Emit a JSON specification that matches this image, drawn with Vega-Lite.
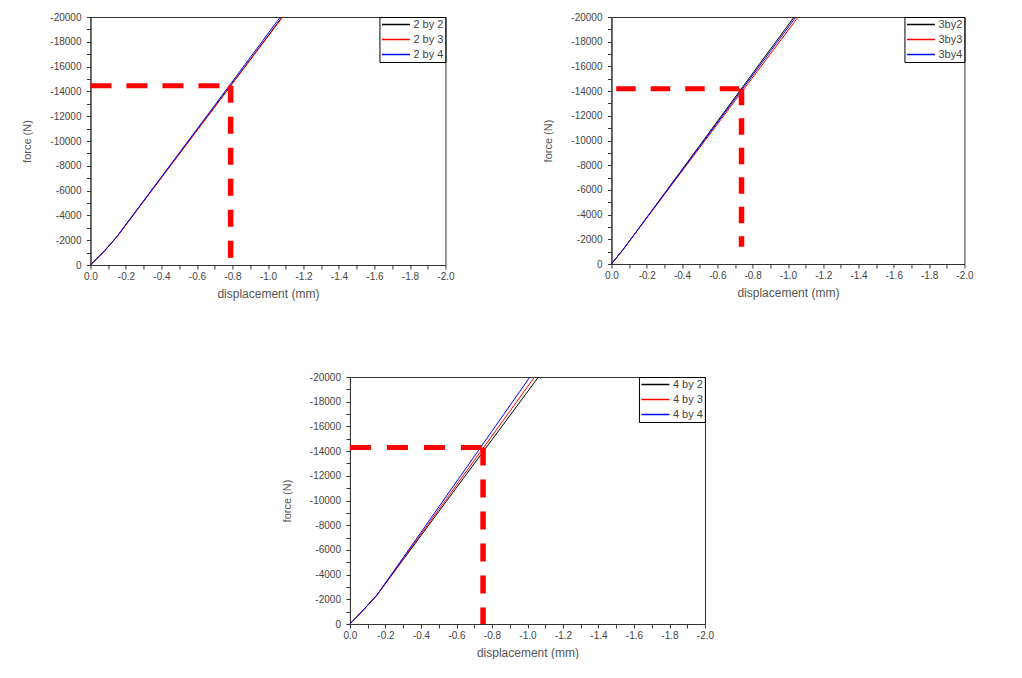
{
  "$schema": "https://vega.github.io/schema/vega-lite/v6.json",
  "padding": {"left": 21, "top": 11, "right": 0, "bottom": 0},
  "background": "white",
  "datasets": {
    "p1": [
      {"s":"2 by 2","x":0,"y":0},{"s":"2 by 2","x":-0.08,"y":-1150},{"s":"2 by 2","x":-0.15,"y":-2300},{"s":"2 by 2","x":-0.3,"y":-5150},{"s":"2 by 2","x":-0.5,"y":-8960},{"s":"2 by 2","x":-0.7,"y":-12770},{"s":"2 by 2","x":-0.9,"y":-16570},{"s":"2 by 2","x":-1.08,"y":-20000},
      {"s":"2 by 3","x":0,"y":0},{"s":"2 by 3","x":-0.08,"y":-1140},{"s":"2 by 3","x":-0.15,"y":-2290},{"s":"2 by 3","x":-0.3,"y":-5150},{"s":"2 by 3","x":-0.5,"y":-8940},{"s":"2 by 3","x":-0.7,"y":-12730},{"s":"2 by 3","x":-0.9,"y":-16530},{"s":"2 by 3","x":-1.083,"y":-20000},
      {"s":"2 by 4","x":0,"y":0},{"s":"2 by 4","x":-0.08,"y":-1160},{"s":"2 by 4","x":-0.15,"y":-2310},{"s":"2 by 4","x":-0.3,"y":-5190},{"s":"2 by 4","x":-0.5,"y":-9030},{"s":"2 by 4","x":-0.7,"y":-12880},{"s":"2 by 4","x":-0.9,"y":-16730},{"s":"2 by 4","x":-1.07,"y":-20000}
    ],
    "p2": [
      {"s":"3by2","x":0,"y":0},{"s":"3by2","x":-0.07,"y":-1250},{"s":"3by2","x":-0.13,"y":-2400},{"s":"3by2","x":-0.3,"y":-5706},{"s":"3by2","x":-0.5,"y":-9596},{"s":"3by2","x":-0.7,"y":-13490},{"s":"3by2","x":-0.9,"y":-17380},{"s":"3by2","x":-1.035,"y":-20000},
      {"s":"3by3","x":0,"y":0},{"s":"3by3","x":-0.07,"y":-1240},{"s":"3by3","x":-0.13,"y":-2390},{"s":"3by3","x":-0.3,"y":-5624},{"s":"3by3","x":-0.5,"y":-9417},{"s":"3by3","x":-0.7,"y":-13210},{"s":"3by3","x":-0.9,"y":-17000},{"s":"3by3","x":-1.058,"y":-20000},
      {"s":"3by4","x":0,"y":0},{"s":"3by4","x":-0.07,"y":-1250},{"s":"3by4","x":-0.13,"y":-2400},{"s":"3by4","x":-0.3,"y":-5670},{"s":"3by4","x":-0.5,"y":-9517},{"s":"3by4","x":-0.7,"y":-13364},{"s":"3by4","x":-0.9,"y":-17210},{"s":"3by4","x":-1.045,"y":-20000}
    ],
    "p3": [
      {"s":"4 by 2","x":0,"y":0},{"s":"4 by 2","x":-0.08,"y":-1200},{"s":"4 by 2","x":-0.15,"y":-2300},{"s":"4 by 2","x":-0.3,"y":-5211},{"s":"4 by 2","x":-0.5,"y":-9093},{"s":"4 by 2","x":-0.7,"y":-12975},{"s":"4 by 2","x":-0.9,"y":-16857},{"s":"4 by 2","x":-1.062,"y":-20000},
      {"s":"4 by 3","x":0,"y":0},{"s":"4 by 3","x":-0.08,"y":-1200},{"s":"4 by 3","x":-0.15,"y":-2300},{"s":"4 by 3","x":-0.3,"y":-5283},{"s":"4 by 3","x":-0.5,"y":-9260},{"s":"4 by 3","x":-0.7,"y":-13240},{"s":"4 by 3","x":-0.9,"y":-17215},{"s":"4 by 3","x":-1.04,"y":-20000},
      {"s":"4 by 4","x":0,"y":0},{"s":"4 by 4","x":-0.08,"y":-1210},{"s":"4 by 4","x":-0.15,"y":-2310},{"s":"4 by 4","x":-0.3,"y":-5373},{"s":"4 by 4","x":-0.5,"y":-9470},{"s":"4 by 4","x":-0.7,"y":-13560},{"s":"4 by 4","x":-0.9,"y":-17660},{"s":"4 by 4","x":-1.014,"y":-20000}
    ],
    "d1": [
      {"k":"h","x":0,"x2":-0.79,"y":-14450,"y2":-14450},
      {"k":"v","x":-0.79,"x2":-0.79,"y":-14450,"y2":-300}
    ],
    "d2": [
      {"k":"h","x":-0.027,"x2":-0.745,"y":-14200,"y2":-14200},
      {"k":"v","x":-0.737,"x2":-0.737,"y":-14200,"y2":-1400}
    ],
    "d3": [
      {"k":"h","x":0,"x2":-0.755,"y":-14300,"y2":-14300},
      {"k":"v","x":-0.75,"x2":-0.75,"y":-14300,"y2":0}
    ]
  },
  "vconcat": [
    {
      "hconcat": [
        {
          "width": 355, "height": 248,
          "encoding": {
            "x": {"field":"x","type":"quantitative","scale":{"domain":[0,-2],"nice":false,"zero":false},
              "axis":{"title":"displacement (mm)","values":[0,-0.1,-0.2,-0.3,-0.4,-0.5,-0.6,-0.7,-0.8,-0.9,-1,-1.1,-1.2,-1.3,-1.4,-1.5,-1.6,-1.7,-1.8,-1.9,-2],
                "labelExpr":"round(datum.value*10) % 2 == 0 ? replace(format(datum.value, '.1f'), '\u2212', '-') : ''","titlePadding":7}},
            "y": {"field":"y","type":"quantitative","scale":{"domain":[0,-20000],"nice":false,"zero":false},
              "axis":{"title":"force (N)","values":[0,-1000,-2000,-3000,-4000,-5000,-6000,-7000,-8000,-9000,-10000,-11000,-12000,-13000,-14000,-15000,-16000,-17000,-18000,-19000,-20000],
                "labelExpr":"datum.value % 2000 == 0 ? replace(format(datum.value, 'd'), '\u2212', '-') : ''","titlePadding":17,"labelPadding":5.5}}
          },
          "layer": [
            {"data":{"name":"p1"},"mark":{"type":"line","strokeWidth":1,"clip":true},
             "encoding":{"color":{"field":"s","type":"nominal","scale":{"domain":["2 by 2","2 by 3","2 by 4"],"range":["#000000","#ff0000","#0000ff"]}}}},
            {"data":{"name":"d1"},"transform":[{"filter":"datum.k == 'h'"}],"mark":{"type":"rule","color":"#ff0000","strokeWidth":5,"strokeDash":[21,15]},
             "encoding":{"x2":{"field":"x2"}}},
            {"data":{"name":"d1"},"transform":[{"filter":"datum.k == 'v'"}],"mark":{"type":"rule","color":"#ff0000","strokeWidth":5.5,"strokeDash":[17,14]},
             "encoding":{"y2":{"field":"y2"}}}
          ]
        },
        {
          "width": 353, "height": 247,
          "encoding": {
            "x": {"field":"x","type":"quantitative","scale":{"domain":[0,-2],"nice":false,"zero":false},
              "axis":{"title":"displacement (mm)","values":[0,-0.1,-0.2,-0.3,-0.4,-0.5,-0.6,-0.7,-0.8,-0.9,-1,-1.1,-1.2,-1.3,-1.4,-1.5,-1.6,-1.7,-1.8,-1.9,-2],
                "labelExpr":"round(datum.value*10) % 2 == 0 ? replace(format(datum.value, '.1f'), '\u2212', '-') : ''","titlePadding":7}},
            "y": {"field":"y","type":"quantitative","scale":{"domain":[0,-20000],"nice":false,"zero":false},
              "axis":{"title":"force (N)","values":[0,-1000,-2000,-3000,-4000,-5000,-6000,-7000,-8000,-9000,-10000,-11000,-12000,-13000,-14000,-15000,-16000,-17000,-18000,-19000,-20000],
                "labelExpr":"datum.value % 2000 == 0 ? replace(format(datum.value, 'd'), '\u2212', '-') : ''","titlePadding":17,"labelPadding":5.5}}
          },
          "layer": [
            {"data":{"name":"p2"},"mark":{"type":"line","strokeWidth":1,"clip":true},
             "encoding":{"color":{"field":"s","type":"nominal","scale":{"domain":["3by2","3by3","3by4"],"range":["#000000","#ff0000","#0000ff"]}}}},
            {"data":{"name":"d2"},"transform":[{"filter":"datum.k == 'h'"}],"mark":{"type":"rule","color":"#ff0000","strokeWidth":5,"strokeDash":[19.5,15]},
             "encoding":{"x2":{"field":"x2"}}},
            {"data":{"name":"d2"},"transform":[{"filter":"datum.k == 'v'"}],"mark":{"type":"rule","color":"#ff0000","strokeWidth":5.5,"strokeDash":[16.5,13]},
             "encoding":{"y2":{"field":"y2"}}}
          ]
        }
      ],
      "spacing": 86,
      "resolve": {"scale": {"color":"independent","x":"independent","y":"independent"}, "legend": {"color":"independent"}}
    },
    {
      "width": 355, "height": 247,
      "encoding": {
        "x": {"field":"x","type":"quantitative","scale":{"domain":[0,-2],"nice":false,"zero":false},
          "axis":{"title":"displacement (mm)","values":[0,-0.1,-0.2,-0.3,-0.4,-0.5,-0.6,-0.7,-0.8,-0.9,-1,-1.1,-1.2,-1.3,-1.4,-1.5,-1.6,-1.7,-1.8,-1.9,-2],
            "labelExpr":"round(datum.value*10) % 2 == 0 ? replace(format(datum.value, '.1f'), '\u2212', '-') : ''","titlePadding":7}},
        "y": {"field":"y","type":"quantitative","scale":{"domain":[0,-20000],"nice":false,"zero":false},
          "axis":{"title":"force (N)","values":[0,-1000,-2000,-3000,-4000,-5000,-6000,-7000,-8000,-9000,-10000,-11000,-12000,-13000,-14000,-15000,-16000,-17000,-18000,-19000,-20000],
            "labelExpr":"datum.value % 2000 == 0 ? replace(format(datum.value, 'd'), '\u2212', '-') : ''","titlePadding":17,"labelPadding":5.5}}
      },
      "layer": [
        {"data":{"name":"p3"},"mark":{"type":"line","strokeWidth":1,"clip":true},
         "encoding":{"color":{"field":"s","type":"nominal","scale":{"domain":["4 by 2","4 by 3","4 by 4"],"range":["#000000","#ff0000","#0000ff"]}}}},
        {"data":{"name":"d3"},"transform":[{"filter":"datum.k == 'h'"}],"mark":{"type":"rule","color":"#ff0000","strokeWidth":5,"strokeDash":[21,16]},
         "encoding":{"x2":{"field":"x2"}}},
        {"data":{"name":"d3"},"transform":[{"filter":"datum.k == 'v'"}],"mark":{"type":"rule","color":"#ff0000","strokeWidth":5.5,"strokeDash":[18,14]},
         "encoding":{"y2":{"field":"y2"}}}
      ]
    }
  ],
  "spacing": 71,
  "center": true,
  "resolve": {"scale": {"color":"independent","x":"independent","y":"independent"}, "legend": {"color":"independent"}},
  "config": {
    "font": "Liberation Sans",
    "view": {"stroke": "#333333", "strokeWidth": 1},
    "axis": {"domainColor":"#333333","tickColor":"#333333","labelColor":"#444444","titleColor":"#555555","labelFont":"Liberation Sans","titleFont":"Liberation Sans","labelFontSize":10,"titleFontSize":11,"titleFontWeight":"normal","tickSize":4,"grid":false,"labelOverlap":false,"labelFlush":false},
    "axisX": {"titleFontSize":12},
    "legend": {"orient":"top-right","offset":0,"title":null,"strokeColor":"#000000","padding":2,"symbolType":"M-1.25,0H5.75","symbolSize":64,"symbolStrokeWidth":1.5,"labelFontSize":11,"labelFont":"Liberation Sans","labelColor":"#444444","rowPadding":3,"labelOffset":21}
  }
}
